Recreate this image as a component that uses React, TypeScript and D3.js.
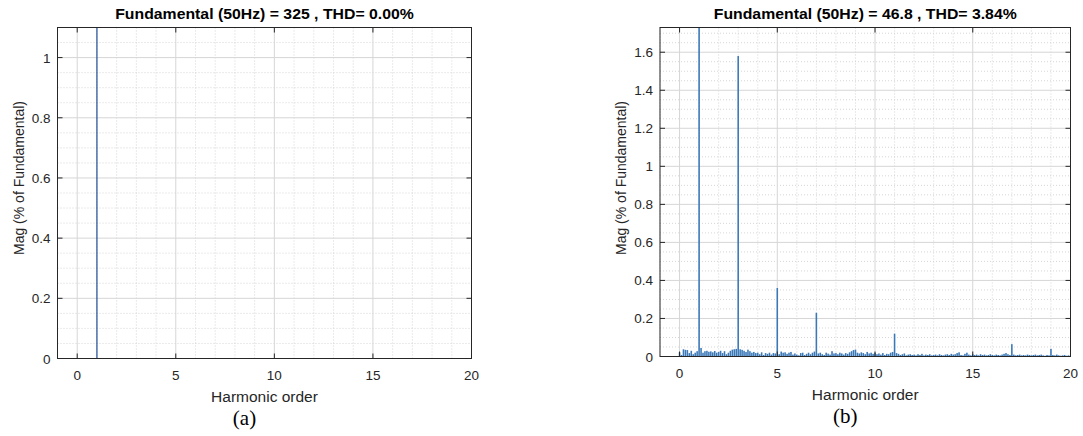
import React from "react";
import * as d3 from "d3";

// ---------- Data ----------
const xTicks = [0, 5, 10, 15, 20];
const yTicksA = [0, 0.2, 0.4, 0.6, 0.8, 1];
const yTicksB = [0, 0.2, 0.4, 0.6, 0.8, 1, 1.2, 1.4, 1.6];

const titleA = "Fundamental (50Hz) = 325 , THD= 0.00%";
const titleB = "Fundamental (50Hz) = 46.8 , THD= 3.84%";
const xLabel = "Harmonic order";
const yLabel = "Mag (% of Fundamental)";
const captionA = "(a)";
const captionB = "(b)";

// Panel (a): pure sine, only the fundamental
const ordersA = [1];
const magsA = [100];

// Panel (b): spectrum in 0.1-harmonic steps (5 Hz resolution), 0 .. 20
const magsB = [
  // 0.0 - 0.9
  0.022, 0.008, 0.038, 0.035, 0.034, 0.018, 0.03, 0.012, 0.02, 0.028,
  // 1.0 - 1.9
  100, 0.045, 0.02, 0.028, 0.03, 0.025, 0.027, 0.022, 0.029, 0.02,
  // 2.0 - 2.9
  0.024, 0.03, 0.018, 0.028, 0.012, 0.02, 0.03, 0.036, 0.038, 0.04,
  // 3.0 - 3.9
  1.58, 0.038, 0.035, 0.03, 0.024, 0.036, 0.028, 0.02, 0.024, 0.018,
  // 4.0 - 4.9
  0.02, 0.012, 0.022, 0.008, 0.018, 0.014, 0.02, 0.01, 0.018, 0.016,
  // 5.0 - 5.9
  0.36, 0.012, 0.026, 0.02, 0.022, 0.014, 0.02, 0.024, 0.01, 0.016,
  // 6.0 - 6.9
  0.01, 0.006, 0.018, 0.02, 0.008, 0.014, 0.02, 0.012, 0.02, 0.026,
  // 7.0 - 7.9
  0.23, 0.016, 0.02, 0.012, 0.008, 0.02, 0.015, 0.01, 0.028, 0.016,
  // 8.0 - 8.9
  0.018, 0.012, 0.02, 0.016, 0.01, 0.018, 0.014, 0.022, 0.028, 0.034,
  // 9.0 - 9.9
  0.036, 0.02, 0.016, 0.022, 0.018, 0.012, 0.024, 0.016, 0.02, 0.014,
  // 10.0 - 10.9
  0.02, 0.012, 0.016, 0.01, 0.018, 0.008, 0.014, 0.012, 0.02, 0.024,
  // 11.0 - 11.9
  0.12, 0.018, 0.014, 0.008, 0.012, 0.016, 0.006, 0.01, 0.012, 0.008,
  // 12.0 - 12.9
  0.01, 0.006, 0.012, 0.008, 0.014, 0.006, 0.01, 0.008, 0.012, 0.006,
  // 13.0 - 13.9
  0.008, 0.01, 0.006, 0.012, 0.008, 0.006, 0.01, 0.012, 0.008, 0.014,
  // 14.0 - 14.9
  0.01, 0.012, 0.018, 0.022, 0.008, 0.006, 0.014, 0.02, 0.01, 0.006,
  // 15.0 - 15.9
  0.012, 0.008, 0.01, 0.006, 0.012, 0.008, 0.01, 0.006, 0.008, 0.012,
  // 16.0 - 16.9
  0.008, 0.006, 0.01, 0.008, 0.006, 0.01, 0.014, 0.018, 0.012, 0.008,
  // 17.0 - 17.9
  0.065, 0.01, 0.006, 0.008, 0.01, 0.006, 0.008, 0.006, 0.01, 0.008,
  // 18.0 - 18.9
  0.006, 0.008, 0.01, 0.006, 0.008, 0.01, 0.006, 0.004, 0.008, 0.006,
  // 19.0 - 19.9
  0.04, 0.008, 0.006, 0.01, 0.006, 0.004, 0.006, 0.008, 0.004, 0.006,
  // 20.0
  0.004,
];
const ordersB = magsB.map((_, i) => i / 10);

// ---------- Styles ----------
const FONT = "'Liberation Sans', Arial, Helvetica, sans-serif";
const TEXT = "#262626";

type PanelProps = {
  id: string;
  left: number;
  right: number;
  top: number;
  bottom: number;
  yMax: number;
  yTicks: number[];
  orders: number[];
  mags: number[];
  title: string;
  caption: string;
  barColor: string;
  barWidthUnits: number;
};

function Panel(p: PanelProps) {
  const x = d3.scaleLinear().domain([-1, 20]).range([p.left, p.right]);
  const y = d3.scaleLinear().domain([0, p.yMax]).range([p.bottom, p.top]);
  const minorX = d3.range(-1, 21, 1).filter((v) => !xTicks.includes(v));
  const minorY = d3
    .range(0, p.yMax + 1e-9, 0.05)
    .map((v) => Math.round(v * 100) / 100)
    .filter((v) => !p.yTicks.some((t) => Math.abs(t - v) < 1e-6));
  const cx = (p.left + p.right) / 2;
  const tick = 5;
  const bw = Math.max(1, x(p.barWidthUnits) - x(0));
  return (
    <g>
      <defs>
        <clipPath id={`clip-${p.id}`}>
          <rect x={p.left} y={p.top} width={p.right - p.left} height={p.bottom - p.top} />
        </clipPath>
      </defs>
      <rect x={p.left} y={p.top} width={p.right - p.left} height={p.bottom - p.top} fill="#fff" />
      {/* minor grid */}
      {minorX.map((v) => (
        <line key={`mx${v}`} x1={x(v)} x2={x(v)} y1={p.top} y2={p.bottom}
          stroke="#cccccc" strokeWidth={0.8} strokeDasharray="1,2" />
      ))}
      {minorY.map((v) => (
        <line key={`my${v}`} x1={p.left} x2={p.right} y1={y(v)} y2={y(v)}
          stroke="#cccccc" strokeWidth={0.8} strokeDasharray="1,2" />
      ))}
      {/* major grid */}
      {xTicks.map((v) => (
        <line key={`gx${v}`} x1={x(v)} x2={x(v)} y1={p.top} y2={p.bottom}
          stroke="#d6d6d6" strokeWidth={1} />
      ))}
      {p.yTicks.map((v) => (
        <line key={`gy${v}`} x1={p.left} x2={p.right} y1={y(v)} y2={y(v)}
          stroke="#d6d6d6" strokeWidth={1} />
      ))}
      {/* bars */}
      <g clipPath={`url(#clip-${p.id})`}>
        {p.orders.map((o, i) => (
          <rect key={`b${i}`} x={x(o) - bw / 2} width={bw}
            y={y(p.mags[i])} height={Math.max(0, p.bottom - y(p.mags[i]))}
            fill={p.barColor} />
        ))}
      </g>
      {/* ticks */}
      {xTicks.map((v) => (
        <g key={`tx${v}`}>
          <line x1={x(v)} x2={x(v)} y1={p.bottom} y2={p.bottom - tick} stroke={TEXT} />
          <line x1={x(v)} x2={x(v)} y1={p.top} y2={p.top + tick} stroke={TEXT} />
          <text x={x(v)} y={p.bottom + 21} textAnchor="middle" fontFamily={FONT}
            fontSize={13.5} fill={TEXT}>{v}</text>
        </g>
      ))}
      {p.yTicks.map((v) => (
        <g key={`ty${v}`}>
          <line x1={p.left} x2={p.left + tick} y1={y(v)} y2={y(v)} stroke={TEXT} />
          <line x1={p.right} x2={p.right - tick} y1={y(v)} y2={y(v)} stroke={TEXT} />
          <text x={p.left - 7} y={y(v) + 5} textAnchor="end" fontFamily={FONT}
            fontSize={13.5} fill={TEXT}>{v}</text>
        </g>
      ))}
      {/* box */}
      <rect x={p.left} y={p.top} width={p.right - p.left} height={p.bottom - p.top}
        fill="none" stroke={TEXT} strokeWidth={1} />
      {/* labels */}
      <text transform={`translate(${cx},${p.top - 9}) scale(1.13,1)`} textAnchor="middle"
        fontFamily={FONT} fontWeight="bold" fontSize={14} fill="#000">{p.title}</text>
      <text x={cx} y={p.bottom + 43} textAnchor="middle" fontFamily={FONT}
        fontSize={15.5} fill={TEXT}>{xLabel}</text>
      <text transform={`translate(${p.left - 34},178) rotate(-90)`} textAnchor="middle"
        fontFamily={FONT} fontSize={14} fill={TEXT}>{yLabel}</text>
      <text x={cx - 20} y={p.bottom + 66} textAnchor="middle"
        fontFamily="'Liberation Serif', 'Times New Roman', serif" fontSize={21} fill="#000">
        {p.caption}
      </text>
    </g>
  );
}

export default function App() {
  return (
    <svg width={1083} height={436} style={{ position: "absolute", left: 0, top: 0, background: "#fff" }}>
      <rect width={1083} height={436} fill="#fff" />
      <Panel id="a" left={57.5} right={471.5} top={27.5} bottom={358.5} yMax={1.1}
        yTicks={yTicksA} orders={ordersA} mags={magsA} title={titleA} caption={captionA}
        barColor="#1f4a96" barWidthUnits={0.06} />
      <Panel id="b" left={660} right={1070.5} top={27.5} bottom={356.5} yMax={1.73}
        yTicks={yTicksB} orders={ordersB} mags={magsB} title={titleB} caption={captionB}
        barColor="#3a78b8" barWidthUnits={0.08} />
    </svg>
  );
}
